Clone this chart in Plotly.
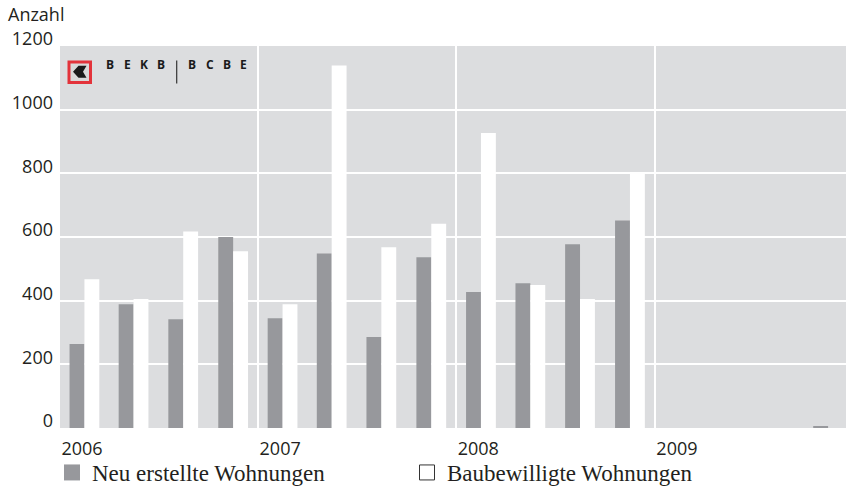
import plotly.graph_objects as go

# ---- data ----
quarters = ["2006-01-01", "2006-04-01", "2006-07-01", "2006-10-01",
            "2007-01-01", "2007-04-01", "2007-07-01", "2007-10-01",
            "2008-01-01", "2008-04-01", "2008-07-01", "2008-10-01",
            "2009-01-01", "2009-04-01", "2009-07-01", "2009-10-01"]
neu_erstellt = [264, 389, 342, 600, 345, 548, 286, 536, 427, 455, 577, 652,
                None, None, None, 4]
baubewilligt = [467, 405, 617, 555, 389, 1139, 568, 642, 927, 449, 405, 798,
                None, None, None, None]
series_names = ["Neu erstellte Wohnungen", "Baubewilligte Wohnungen"]
y_ticks = [0, 200, 400, 600, 800, 1000, 1200]
logo_left = "BEKB"
logo_right = "BCBE"

# ---- style ----
W, H = 846, 490
ML, MR, MT, MB = 60, 0, 46, 62
PW, PH = W - ML - MR, H - MT - MB
BG = "#dcdddf"
GRAY = "#97989c"
TXT = "#231f20"
SANS = "Open Sans"
SERIF = "Liberation Serif"


def px(x):
    return (x - ML) / PW


def py(y):
    return (H - MB - y) / PH


fig = go.Figure()
fig.add_trace(go.Bar(x=quarters, y=neu_erstellt, name=series_names[0],
                     marker=dict(color=GRAY, line=dict(width=0)),
                     xperiod="M3", xperiodalignment="middle", showlegend=False))
fig.add_trace(go.Bar(x=quarters, y=baubewilligt, name=series_names[1],
                     marker=dict(color="#ffffff", line=dict(width=0)),
                     xperiod="M3", xperiodalignment="middle", showlegend=False))
# legend entries
fig.add_trace(go.Scatter(x=[None], y=[None], mode="markers", name=series_names[0],
                         marker=dict(symbol="square", size=16, color=GRAY,
                                     line=dict(width=0))))
fig.add_trace(go.Scatter(x=[None], y=[None], mode="markers", name=series_names[1],
                         marker=dict(symbol="square", size=15, color="#ffffff",
                                     line=dict(width=1, color="#333333"))))

shapes = []
annotations = []
# Logo: red square with chevron
shapes.append(dict(type="rect", xref="paper", yref="paper",
                   x0=px(67.5), x1=px(92), y0=py(84), y1=py(60.5),
                   fillcolor="#e3333b", line=dict(width=0), layer="above"))
shapes.append(dict(type="rect", xref="paper", yref="paper",
                   x0=px(70.5), x1=px(89), y0=py(81), y1=py(63.5),
                   fillcolor="#d9d9d9", line=dict(width=0), layer="above"))
chev = [(73, 71.7), (78.5, 65.8), (86.5, 65.8), (83, 71.7), (86.5, 77.8), (78.5, 77.8)]
path = "M " + " L ".join(f"{px(a):.5f},{py(b):.5f}" for a, b in chev) + " Z"
shapes.append(dict(type="path", xref="paper", yref="paper", path=path,
                   fillcolor="#1a1a1a", line=dict(width=0), layer="above"))
shapes.append(dict(type="line", xref="paper", yref="paper",
                   x0=px(176.7), x1=px(176.7), y0=py(60.5), y1=py(83.5),
                   line=dict(color="#333333", width=1.2), layer="above"))
for i, ch in enumerate(logo_left):
    annotations.append(dict(text=ch, xref="paper", yref="paper",
                            x=px(110.3 + i * 17), y=py(64.5), showarrow=False,
                            xanchor="center", yanchor="middle",
                            font=dict(family=SANS, size=12, color="#1a1a1a",
                                      weight="bold")))
for i, ch in enumerate(logo_right):
    annotations.append(dict(text=ch, xref="paper", yref="paper",
                            x=px(192.3 + i * 17.2), y=py(64.5), showarrow=False,
                            xanchor="center", yanchor="middle",
                            font=dict(family=SANS, size=12, color="#1a1a1a",
                                      weight="bold")))
# axis title
annotations.append(dict(text="Anzahl", xref="paper", yref="paper",
                        x=px(6), y=py(14), xanchor="left", yanchor="middle",
                        showarrow=False, font=dict(family=SANS, size=18, color=TXT)))

fig.update_layout(
    width=W, height=H,
    margin=dict(l=ML, r=MR, t=MT, b=MB, pad=0, autoexpand=False),
    paper_bgcolor="#ffffff", plot_bgcolor=BG,
    barmode="group", bargap=0.394, bargroupgap=0,
    showlegend=True,
    legend=dict(orientation="h", x=px(52), y=py(451), xanchor="left", yanchor="top",
                font=dict(family=SERIF, size=23, color=TXT),
                entrywidth=310, entrywidthmode="pixels",
                bgcolor="rgba(0,0,0,0)", borderwidth=0,
                itemsizing="trace", tracegroupgap=0),
    xaxis=dict(type="date", range=["2006-01-01", "2009-12-19"],
               dtick="M12", tick0="2006-01-01", tickformat="%Y",
               showgrid=True, gridcolor="#ffffff", gridwidth=1.5,
               zeroline=False, showline=False, ticks="", automargin=False,
               ticklabelshift=22, ticklabelstandoff=8,
               tickfont=dict(family=SANS, size=18, color=TXT)),
    yaxis=dict(range=[0, 1200], tickvals=y_ticks, automargin=False,
               showgrid=True, gridcolor="#ffffff", gridwidth=1.5,
               zeroline=False, showline=False, ticks="",
               ticklabelshift=-7, ticklabelstandoff=6,
               tickfont=dict(family=SANS, size=18, color=TXT)),
    shapes=shapes, annotations=annotations,
)

fig.write_html("out.html", config={"displayModeBar": False},
               post_script="document.body.style.margin='0px';"
                           "document.body.style.overflow='hidden';")
